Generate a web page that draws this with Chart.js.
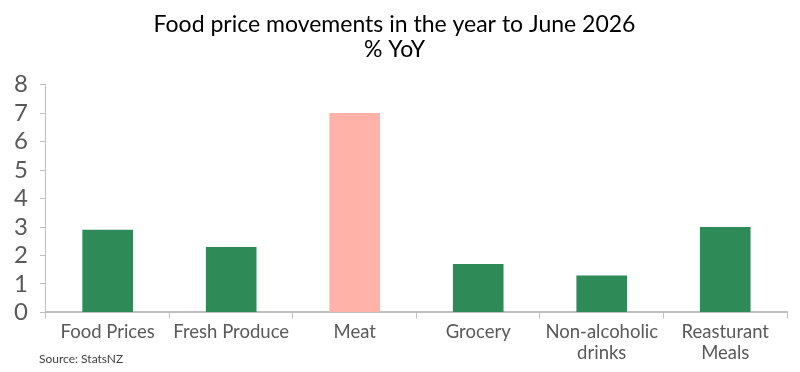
<!DOCTYPE html>
<html>
<head>
<meta charset="utf-8">
<script src="https://cdn.jsdelivr.net/npm/chart.js@4"></script>
<style>
  html, body { margin: 0; padding: 0; background: #fff; }
  #wrap { width: 800px; height: 372px; }
</style>
</head>
<body>
<div id="wrap"><canvas id="foodChart"></canvas></div>
<script>
// chart data
const categories = ['Food Prices', 'Fresh Produce', 'Meat', 'Grocery', ['Non-alcoholic', 'drinks'], ['Reasturant', 'Meals']];
const yoyValues = [2.9, 2.3, 7.0, 1.7, 1.3, 3.0];
const barColours = ['#2e8b57', '#2e8b57', '#ffb3a8', '#2e8b57', '#2e8b57', '#2e8b57'];
const yTicks = [0, 1, 2, 3, 4, 5, 6, 7, 8];

const FONT = "Lato, 'DejaVu Sans', sans-serif";

/* source note under the axis */
const sourceNote = {
    id: 'sourceNote',
    afterDraw(chart) {
        const ctx = chart.ctx;
        ctx.save();
        ctx.font = '12px ' + FONT;
        ctx.fillStyle = '#404040';
        ctx.textBaseline = 'middle';
        ctx.fillText('Source: StatsNZ', 39, 359);
        ctx.restore();
    }
};

new Chart(document.getElementById('foodChart'), {
    type: 'bar',
    data: {
        labels: categories,
        datasets: [{
            label: '% YoY',
            data: yoyValues,
            backgroundColor: barColours,
            borderWidth: 0,
            categoryPercentage: 1,
            barPercentage: 0.41
        }]
    },
    options: {
        responsive: true,
        maintainAspectRatio: false,
        animation: false,
        layout: {
            padding: { left: 2, right: 13, top: 2, bottom: 5 }
        },
        plugins: {
            legend: { display: false },
            tooltip: { enabled: false },
            title: {
                display: true,
                text: ['Food price movements in the year to June 2026', '% YoY'],
                color: '#000',
                font: { family: FONT, size: 23, weight: 'normal', lineHeight: 1.1 },
                padding: { top: 10, bottom: 22 }
            }
        },
        scales: {
            x: {
                grid: {
                    display: true,
                    drawOnChartArea: false,
                    offset: true,
                    color: '#bfbfbf',
                    tickLength: 6
                },
                border: { color: '#bfbfbf', width: 2 },
                ticks: {
                    color: '#595959',
                    font: { family: FONT, size: 18.5, lineHeight: 1.15 },
                    maxRotation: 0,
                    autoSkip: false,
                    padding: 3
                }
            },
            y: {
                min: 0,
                max: 8,
                afterBuildTicks(scale) {
                    scale.ticks = yTicks.map(v => ({ value: v }));
                },
                grid: {
                    display: true,
                    drawOnChartArea: false,
                    color: '#bfbfbf',
                    tickLength: 6
                },
                border: { color: '#bfbfbf' },
                ticks: {
                    color: '#595959',
                    font: { family: FONT, size: 24 },
                    autoSkip: false,
                    padding: 12
                }
            }
        }
    },
    plugins: [sourceNote]
});
</script>
</body>
</html>
